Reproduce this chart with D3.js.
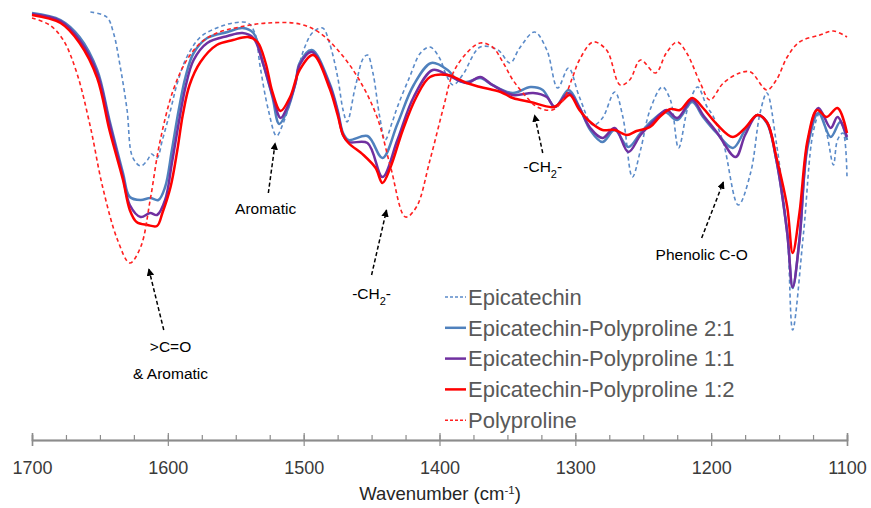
<!DOCTYPE html>
<html>
<head>
<meta charset="utf-8">
<script src="https://cdn.jsdelivr.net/npm/d3@7"></script>
<style>
  body { margin: 0; background: #fff; }
  svg { display: block; font-family: "Liberation Sans", Arial, sans-serif; }
</style>
</head>
<body>
<svg id="chart" width="871" height="508"></svg>
<script>
// FTIR spectra, values are relative transmittance (arbitrary units)

// Epicatechin (dashed blue)
var epiWn = [1657, 1645, 1640, 1635, 1630, 1626, 1620, 1615, 1612, 1608, 1604, 1598, 1593, 1586, 1576, 1564, 1552, 1541, 1536, 1532, 1526, 1520, 1515, 1508, 1500, 1493, 1486, 1481, 1475, 1471, 1468, 1462, 1456, 1453, 1449, 1444, 1440, 1435, 1431, 1422, 1414, 1407, 1400, 1395, 1390, 1383, 1370, 1357, 1348, 1341, 1330, 1321, 1313, 1305, 1297, 1287, 1280, 1271, 1265, 1258, 1252, 1245, 1236, 1230, 1224, 1217, 1210, 1203, 1199, 1191, 1180, 1171, 1164, 1159, 1152, 1144, 1140, 1132, 1125, 1120, 1115, 1110, 1107, 1103, 1100];
var epiVal = [42.8, 42.3, 40.7, 37.3, 33.0, 28.3, 27.4, 28.0, 28.6, 28.2, 30.0, 33.0, 35.7, 38.3, 40.3, 41.2, 41.7, 41.7, 40.7, 37.3, 33.0, 30.4, 31.7, 34.7, 39.0, 40.8, 41.2, 39.7, 36.3, 33.0, 31.8, 35.3, 38.2, 38.5, 36.7, 32.3, 30.0, 31.7, 33.3, 36.3, 38.7, 39.3, 38.2, 36.5, 35.5, 36.5, 39.3, 39.0, 37.7, 39.2, 40.8, 39.0, 35.2, 37.2, 34.3, 31.5, 32.2, 34.8, 32.3, 26.3, 29.0, 33.0, 35.3, 34.0, 29.2, 33.3, 35.3, 33.3, 32.5, 29.7, 23.5, 26.7, 32.7, 34.7, 29.7, 20.7, 11.0, 20.7, 30.7, 32.7, 30.7, 27.5, 30.0, 30.7, 26.3];

// Epicatechin-Polyproline 2:1 (solid blue)
var ep21Wn = [1700, 1679, 1665, 1652, 1643, 1633, 1628, 1620, 1613, 1607, 1602, 1597, 1592, 1587, 1581, 1571, 1556, 1545, 1537, 1530, 1523, 1518, 1512, 1506, 1503, 1494, 1481, 1475, 1471, 1467, 1453, 1442, 1431, 1419, 1406, 1394, 1387, 1380, 1370, 1361, 1346, 1333, 1324, 1315, 1305, 1297, 1289, 1280, 1271, 1261, 1252, 1243, 1234, 1225, 1214, 1206, 1196, 1184, 1175, 1166, 1159, 1152, 1144, 1140, 1135, 1129, 1121, 1112, 1105, 1100];
var ep21Val = [42.7, 42.0, 40.3, 37.0, 32.0, 26.7, 24.3, 24.0, 24.2, 24.0, 25.3, 29.0, 33.0, 36.3, 38.7, 40.2, 40.8, 41.2, 40.7, 37.7, 34.3, 31.6, 33.0, 35.7, 37.7, 39.0, 35.7, 33.0, 30.7, 30.0, 30.4, 28.2, 31.6, 35.5, 37.7, 37.0, 36.0, 35.8, 36.2, 35.5, 34.7, 35.3, 35.0, 33.3, 35.0, 33.3, 31.0, 29.8, 31.0, 29.3, 30.7, 32.0, 32.8, 32.0, 33.8, 32.3, 30.7, 29.2, 31.0, 32.5, 31.7, 28.0, 20.7, 15.2, 20.0, 29.3, 32.7, 30.3, 31.8, 30.0];

// Epicatechin-Polyproline 1:1 (solid purple)
var ep11Wn = [1700, 1679, 1665, 1652, 1643, 1633, 1628, 1620, 1613, 1608, 1602, 1597, 1592, 1587, 1581, 1571, 1556, 1545, 1537, 1530, 1523, 1517, 1512, 1506, 1503, 1494, 1481, 1475, 1471, 1467, 1453, 1442, 1431, 1419, 1405, 1394, 1380, 1370, 1361, 1346, 1331, 1321, 1315, 1305, 1297, 1289, 1280, 1271, 1261, 1252, 1243, 1233, 1225, 1214, 1206, 1196, 1182, 1175, 1166, 1159, 1152, 1144, 1140, 1135, 1129, 1121, 1112, 1107, 1100];
var ep11Val = [42.6, 41.9, 40.0, 36.7, 31.7, 26.3, 23.5, 22.3, 22.7, 22.5, 24.0, 27.7, 31.7, 35.3, 38.0, 39.7, 40.4, 40.7, 40.2, 37.7, 34.5, 32.2, 33.3, 35.7, 37.5, 38.8, 35.5, 32.8, 30.5, 29.8, 29.7, 26.3, 30.0, 34.3, 37.0, 36.5, 35.7, 36.3, 35.5, 34.5, 34.7, 34.3, 33.3, 34.7, 33.2, 31.2, 30.2, 31.2, 28.8, 30.5, 31.8, 33.0, 32.2, 34.0, 32.5, 30.8, 28.3, 30.5, 32.5, 31.8, 28.0, 20.7, 15.3, 20.0, 29.7, 33.2, 31.2, 32.3, 30.3];

// Epicatechin-Polyproline 1:2 (solid red)
var ep12Wn = [1700, 1679, 1665, 1652, 1643, 1633, 1628, 1623, 1615, 1608, 1604, 1598, 1593, 1589, 1584, 1576, 1564, 1552, 1541, 1534, 1528, 1523, 1517, 1510, 1503, 1493, 1481, 1475, 1471, 1467, 1456, 1447, 1442, 1436, 1427, 1417, 1407, 1394, 1380, 1370, 1355, 1346, 1333, 1316, 1309, 1304, 1297, 1289, 1280, 1271, 1262, 1255, 1245, 1238, 1230, 1223, 1214, 1206, 1196, 1184, 1175, 1166, 1159, 1152, 1144, 1140, 1135, 1129, 1122, 1115, 1107, 1100];
var ep12Val = [42.5, 41.7, 39.7, 36.2, 31.0, 26.0, 23.0, 21.8, 21.5, 21.4, 22.7, 25.3, 29.0, 32.5, 35.5, 37.8, 39.5, 40.0, 40.3, 39.8, 37.7, 34.8, 32.9, 34.3, 37.0, 38.5, 35.2, 32.5, 30.5, 29.7, 28.5, 27.2, 25.7, 27.3, 31.0, 34.3, 36.3, 36.5, 35.7, 35.3, 34.8, 34.2, 33.8, 33.3, 34.0, 34.5, 33.0, 31.8, 31.0, 31.0, 30.5, 30.9, 31.3, 32.3, 33.1, 33.0, 34.2, 33.2, 31.6, 30.3, 31.2, 32.5, 31.8, 28.3, 23.3, 18.7, 22.7, 30.0, 33.0, 32.3, 33.2, 30.7];

// Polyproline (dashed red)
var ppWn = [1700, 1687, 1677, 1667, 1657, 1648, 1637, 1628, 1620, 1613, 1606, 1596, 1586, 1576, 1564, 1547, 1527, 1503, 1488, 1473, 1459, 1446, 1436, 1425, 1417, 1407, 1397, 1390, 1380, 1370, 1361, 1353, 1346, 1336, 1328, 1317, 1309, 1302, 1297, 1287, 1277, 1267, 1260, 1252, 1241, 1233, 1225, 1218, 1208, 1201, 1191, 1179, 1171, 1159, 1152, 1144, 1135, 1120, 1110, 1100];
var ppVal = [42.2, 41.5, 40.0, 36.7, 31.3, 25.3, 20.0, 17.7, 19.3, 24.0, 29.7, 35.0, 38.0, 39.7, 40.7, 41.3, 41.7, 41.6, 40.7, 38.7, 36.0, 32.3, 27.3, 22.3, 23.3, 28.0, 33.3, 36.7, 38.7, 39.7, 39.3, 37.7, 36.0, 34.3, 33.3, 33.0, 34.0, 36.3, 38.0, 39.8, 39.0, 35.5, 36.0, 38.0, 36.7, 38.7, 39.8, 38.7, 35.7, 34.0, 35.7, 36.7, 36.8, 35.0, 36.0, 38.3, 39.8, 40.5, 40.9, 40.3];

// axis ticks
var majorTicks = [1700, 1600, 1500, 1400, 1300, 1200, 1100];
var minorTicks = d3.range(1700, 1099, -25);

var svg = d3.select("#chart");
var width = 871, height = 508;
var axisY = 440;

var x = d3.scaleLinear().domain([1700, 1100]).range([32, 847]);
var y = d3.scaleLinear().domain([0, 44]).range([axisY, 0]);

svg.append("rect").attr("width", width).attr("height", height).attr("fill", "#fff");

// ---------------- X AXIS ----------------
var minorAxis = d3.axisTop(x).tickValues(minorTicks).tickSize(5).tickFormat("");
var majorTop = d3.axisTop(x).tickValues(majorTicks).tickSize(7).tickFormat("");
var majorAxis = d3.axisBottom(x).tickValues(majorTicks).tickSize(6).tickPadding(15).tickFormat(d3.format("d"));

[minorAxis, majorTop, majorAxis].forEach(function (ax) {
  var g = svg.append("g").attr("transform", "translate(0," + axisY + ")").call(ax);
  g.selectAll(".tick line").attr("stroke", "#8c8c8c").attr("stroke-width", 1.2);
  g.select(".domain").attr("stroke", "#8c8c8c").attr("stroke-width", 1.5);
  g.selectAll(".tick text")
    .attr("font-size", 18)
    .attr("font-family", "Liberation Sans, Arial, sans-serif")
    .attr("fill", "#3a3a3a");
});

var title = svg.append("text")
  .attr("x", 440).attr("y", 500)
  .attr("text-anchor", "middle")
  .attr("font-size", 18.5)
  .attr("fill", "#262626")
  .text("Wavenumber (cm");
title.append("tspan").attr("baseline-shift", "super").attr("font-size", 11.5).text("-1");
title.append("tspan").text(")");

// ---------------- SPECTRA ----------------
var line = d3.line()
  .x(function (d) { return x(d[0]); })
  .y(function (d) { return y(d[1]); })
  .curve(d3.curveCatmullRom.alpha(0.5));

var series = [
  { name: "Epicatechin", wn: epiWn, val: epiVal, color: "#5b8bc9", width: 1.6, dash: "4,3" },
  { name: "Epicatechin-Polyproline 2:1", wn: ep21Wn, val: ep21Val, color: "#4f81bd", width: 2.5, dash: null },
  { name: "Epicatechin-Polyproline 1:1", wn: ep11Wn, val: ep11Val, color: "#7030a0", width: 2.5, dash: null },
  { name: "Epicatechin-Polyproline 1:2", wn: ep12Wn, val: ep12Val, color: "#ff0000", width: 2.5, dash: null },
  { name: "Polyproline", wn: ppWn, val: ppVal, color: "#ff2020", width: 1.6, dash: "4,3" }
];

series.forEach(function (s) {
  var pts = s.wn.map(function (w, i) { return [w, s.val[i]]; });
  svg.append("path")
    .datum(pts)
    .attr("d", line)
    .attr("fill", "none")
    .attr("stroke", s.color)
    .attr("stroke-width", s.width)
    .attr("stroke-dasharray", s.dash)
    .attr("stroke-linejoin", "round");
});

// ---------------- LEGEND ----------------
var legend = svg.append("g").attr("transform", "translate(445,297)");
series.forEach(function (s, i) {
  var row = legend.append("g").attr("transform", "translate(0," + (i * 30.8) + ")");
  row.append("line")
    .attr("x1", 0).attr("x2", 21).attr("y1", 0).attr("y2", 0)
    .attr("stroke", s.color)
    .attr("stroke-width", s.dash ? 1.6 : 2.5)
    .attr("stroke-dasharray", s.dash ? "3,2" : null);
  row.append("text")
    .attr("x", 23).attr("y", 0).attr("dy", "0.35em")
    .attr("font-size", 22)
    .attr("fill", "#595959")
    .text(s.name);
});

// ---------------- ANNOTATIONS ----------------
svg.append("defs").append("marker")
  .attr("id", "arrow")
  .attr("viewBox", "0 0 10 10")
  .attr("refX", 9).attr("refY", 5)
  .attr("markerWidth", 5).attr("markerHeight", 5)
  .attr("orient", "auto")
  .append("path").attr("d", "M0,0 L10,5 L0,10 z").attr("fill", "#000");

// label lines, text anchor and arrow tail/tip, in data units
var annotations = [
  { lines: [">C=O", "& Aromatic"], at: [1598, 9.3], tail: [1603, 11.0], tip: [1614, 17.1] },
  { lines: ["Aromatic"], at: [1528, 23.1], tail: [1526, 24.7], tip: [1521, 29.7] },
  { lines: ["-CH2-"], at: [1450, 14.6], tail: [1450, 16.5], tip: [1439, 23.0] },
  { lines: ["-CH2-"], at: [1324, 27.3], tail: [1324, 28.7], tip: [1330, 32.5] },
  { lines: ["Phenolic C-O"], at: [1207, 18.5], tail: [1207, 20.2], tip: [1191, 25.8] }
];

annotations.forEach(function (a) {
  svg.append("line")
    .attr("x1", x(a.tail[0])).attr("y1", y(a.tail[1]))
    .attr("x2", x(a.tip[0])).attr("y2", y(a.tip[1]))
    .attr("stroke", "#000")
    .attr("stroke-width", 1.5)
    .attr("stroke-dasharray", "4,2.5")
    .attr("marker-end", "url(#arrow)");

  a.lines.forEach(function (t, i) {
    var txt = svg.append("text")
      .attr("x", x(a.at[0]))
      .attr("y", y(a.at[1]) + i * 27)
      .attr("dy", "0.35em")
      .attr("text-anchor", "middle")
      .attr("font-size", 15.5)
      .attr("fill", "#000");
    if (t === "-CH2-") {
      txt.append("tspan").text("-CH");
      txt.append("tspan").attr("baseline-shift", "sub").attr("font-size", 11).text("2");
      txt.append("tspan").text("-");
    } else {
      txt.text(t);
    }
  });
});
</script>
</body>
</html>
